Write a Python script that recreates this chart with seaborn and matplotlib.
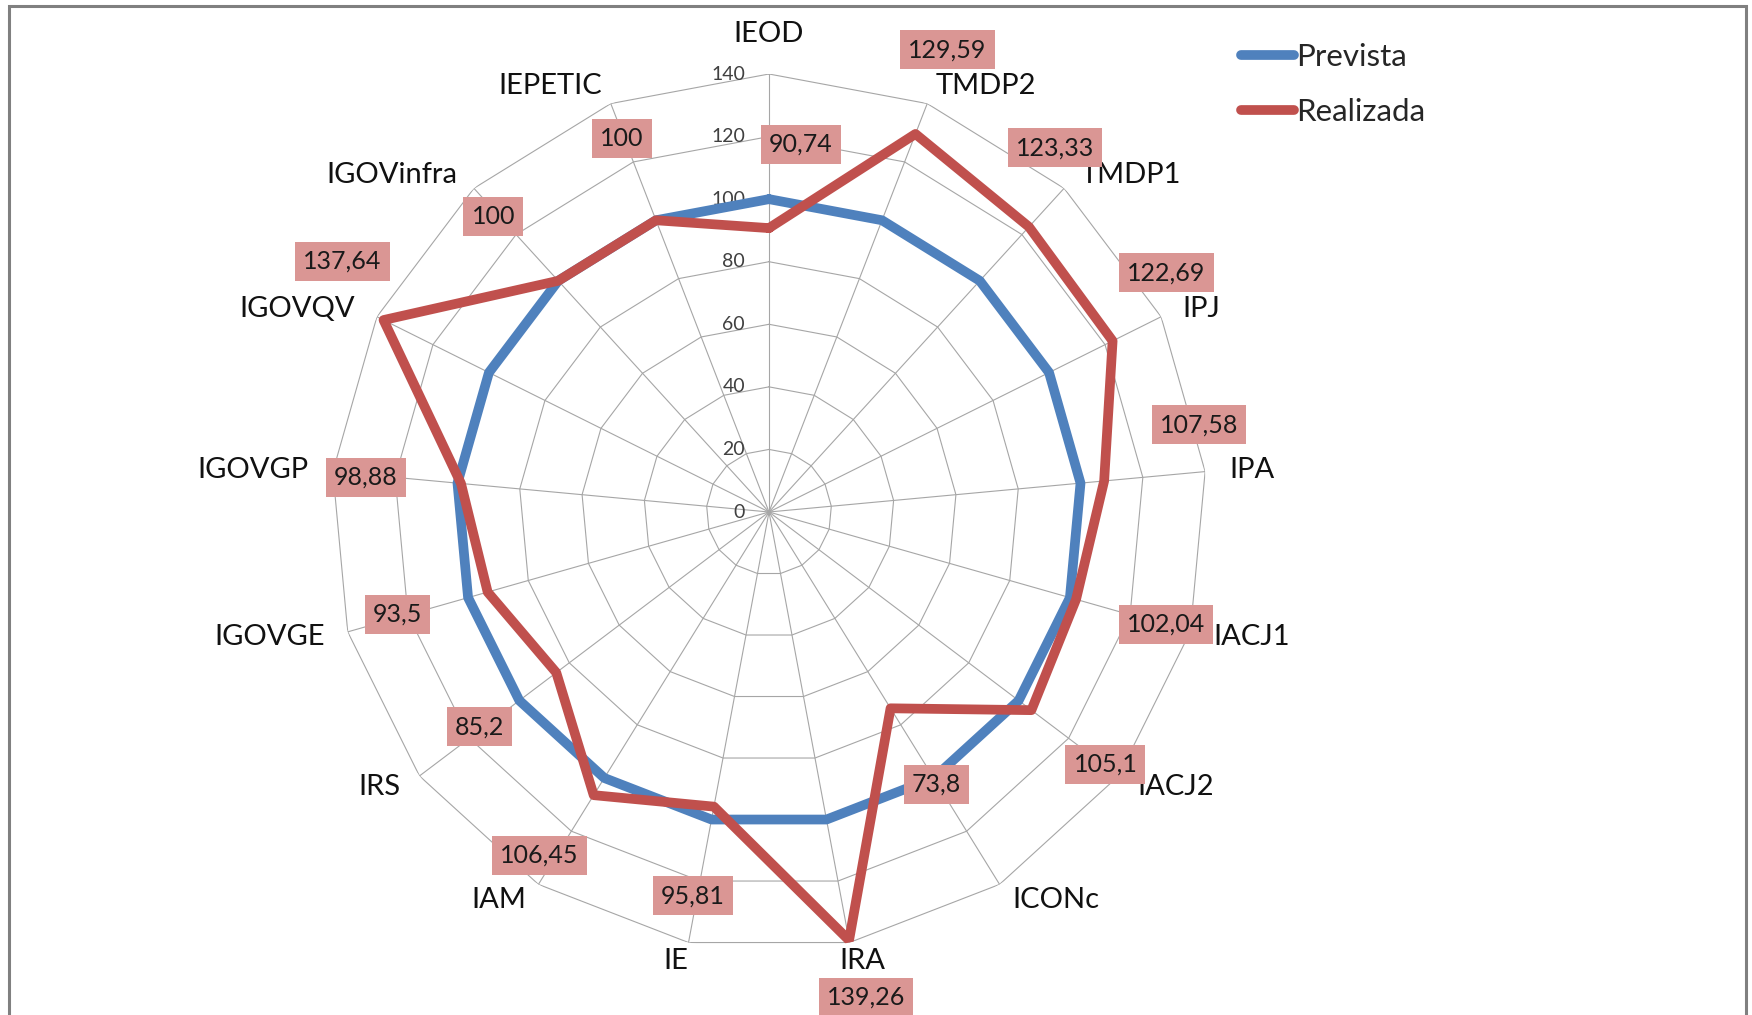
import numpy as np
import pandas as pd
import matplotlib
matplotlib.use('Agg')
import matplotlib.pyplot as plt
from matplotlib.patches import Rectangle
import seaborn as sns

# Dados do gráfico
categorias = ['IEOD', 'TMDP2', 'TMDP1', 'IPJ', 'IPA', 'IACJ1', 'IACJ2', 'ICONc', 'IRA',
              'IE', 'IAM', 'IRS', 'IGOVGE', 'IGOVGP', 'IGOVQV', 'IGOVinfra', 'IEPETIC']
prevista = [100] * 17
realizada = [90.74, 129.59, 123.33, 122.69, 107.58, 102.04, 105.1, 73.8, 139.26,
             95.81, 106.45, 85.2, 93.5, 98.88, 137.64, 100, 100]
niveis = [0, 20, 40, 60, 80, 100, 120, 140]

# deslocamento (px) de cada rótulo de dado, como no original
desloc = [(32, 84), (32, 84), (26, 79), (54, 68), (95, 56), (90, -25), (74, -54), (46, -76),
          (17, -57), (-21, -89), (-54, -60), (-77, -54), (-90, -22), (-95, 6), (-41, 59),
          (-65, 64), (-34, 82)]

n = len(categorias)
ang = np.arange(n) * 2 * np.pi / n
ang_f = np.append(ang, ang[0])

linhas = []
for nome, vals in [('Prevista', prevista), ('Realizada', realizada)]:
    for a, v in zip(ang_f, vals + vals[:1]):
        linhas.append({'ang': a, 'valor': v, 'serie': nome})
df = pd.DataFrame(linhas)

sns.set_theme(style='white')
plt.rcParams['font.family'] = ['Lato', 'DejaVu Sans']

fig = plt.figure(figsize=(17.52, 10.15), dpi=100)
W, H = 1752, 1015
cx, cy, R = 769, 512, 438
ax = fig.add_axes([(cx - R) / W, (H - cy - R) / H, 2 * R / W, 2 * R / H], projection='polar')
ax.set_theta_zero_location('N')
ax.set_theta_direction(-1)
ax.set_ylim(0, 140)
ax.grid(False)
ax.spines['polar'].set_visible(False)
ax.set_xticks([])
ax.set_yticks([])
ax.set_facecolor('none')

# grade poligonal (estilo Excel)
for nv in niveis[1:]:
    ax.plot(ang_f, [nv] * (n + 1), color='#a6a6a6', lw=0.8, zorder=1)
for a in ang:
    ax.plot([a, a], [0, niveis[-1]], color='#a6a6a6', lw=0.8, zorder=1)

for nv in niveis:
    ax.annotate(str(nv), xy=(0, nv), xytext=(-24, 0), textcoords='offset pixels',
                ha='right', va='center', fontsize=14, color='#404040')

paleta = {'Prevista': '#4F81BD', 'Realizada': '#C0504D'}
sns.lineplot(data=df, x='ang', y='valor', hue='serie', palette=paleta, sort=False,
             estimator=None, lw=7, ax=ax, zorder=3, solid_joinstyle='round')
ax.set_xlabel('')
ax.set_ylabel('')
handles, labels = ax.get_legend_handles_labels()
ax.get_legend().remove()
for h in handles:
    h.set_solid_capstyle('round')

# rótulos das categorias (junto ao vértice externo)
for a, c in zip(ang, categorias):
    s, co = np.sin(a), np.cos(a)
    if abs(s) < 0.3:
        ha = 'center'
        dx = 70 * s
    else:
        ha = 'left' if s > 0 else 'right'
        dx = 24 * s
    if co > 0.95:
        va, dy = 'bottom', 27
    else:
        va, dy = 'center', 18.5 * co
    ax.annotate(c, xy=(a, niveis[-1]), xytext=(dx, dy), textcoords='offset pixels',
                ha=ha, va=va, fontsize=21, color='#111111')

# rótulos de dados
for a, v, d in zip(ang, realizada, desloc):
    txt = ('%g' % v).replace('.', ',')
    ax.annotate(txt, xy=(a, v), xytext=d, textcoords='offset pixels', ha='center', va='center',
                fontsize=18, color='#1a1a1a', zorder=5,
                bbox=dict(boxstyle='square,pad=0.32', fc='#DA9694', ec='none'))

fig.legend(handles, labels, loc='upper left', bbox_to_anchor=(1241 / W, 1 - 43 / H), frameon=False,
           fontsize=22.5, handlelength=1.7, handletextpad=0.05, labelspacing=0.85,
           borderpad=0, borderaxespad=0)

fig.add_artist(Rectangle((9 / W, -0.05), (1746 - 9) / W, 1.05 - 6 / H, transform=fig.transFigure,
                         fill=False, ec='#808080', lw=2.2))

plt.savefig('out.png', dpi=100)
